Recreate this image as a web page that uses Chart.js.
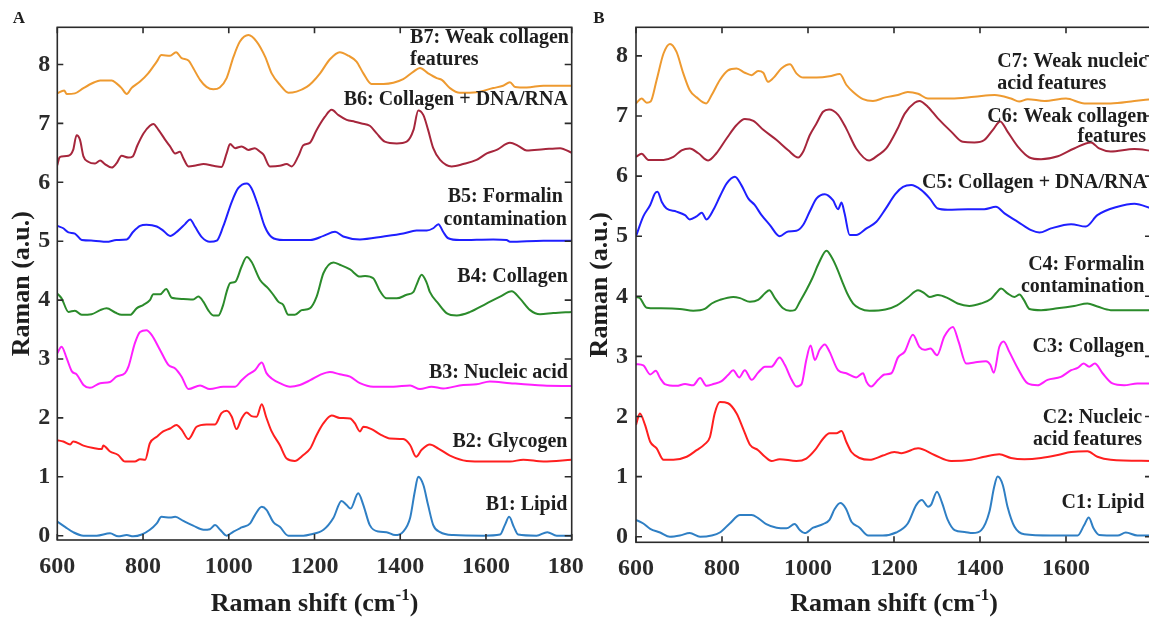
<!DOCTYPE html>
<html>
<head>
<meta charset="utf-8">
<script src="https://cdn.jsdelivr.net/npm/chart.js@4.4.1/dist/chart.umd.min.js"></script>
<style>
  html, body { margin: 0; padding: 0; background: #fff; }
  body { width: 1149px; height: 618px; position: relative; overflow: hidden; }
  .panel { position: absolute; top: 0; height: 618px; overflow: hidden; }
  #wrapA { left: 0; width: 584px; }
  #wrapB { left: 584px; width: 565px; }
  canvas { display: block; }
</style>
</head>
<body>
<div class="panel" id="wrapA"><canvas id="panelA" width="584" height="618"></canvas></div>
<div class="panel" id="wrapB"><canvas id="panelB" width="600" height="618"></canvas></div>
<script>
// Tick values shared by both panels
const shiftTicks = [600, 800, 1000, 1200, 1400, 1600, 1800];
const ramanTicks = [0, 1, 2, 3, 4, 5, 6, 7, 8];

// Panel A spectra, [Raman shift (cm-1), offset intensity (a.u.)]
const b1 = [[600,0.24],[618,0.15],[637,0.06],[661,0.00],[692,0.00],[723,0.04],[742,-0.01],[762,0.01],[777,-0.01],[797,0.02],[816,0.10],[832,0.21],[843,0.32],[863,0.31],[875,0.32],[894,0.25],[917,0.17],[941,0.10],[956,0.11],[968,0.18],[980,0.10],[995,0.00],[1011,0.07],[1030,0.14],[1050,0.21],[1061,0.35],[1077,0.49],[1088,0.44],[1104,0.23],[1119,0.15],[1139,0.00],[1174,0.00],[1190,0.02],[1221,0.10],[1244,0.30],[1263,0.59],[1275,0.52],[1284,0.46],[1302,0.72],[1314,0.52],[1329,0.18],[1349,0.07],[1368,0.06],[1388,0.01],[1407,0.07],[1423,0.30],[1434,0.75],[1442,1.00],[1454,0.86],[1465,0.52],[1477,0.18],[1493,0.06],[1524,0.01],[1594,0.00],[1633,0.02],[1644,0.18],[1654,0.32],[1665,0.15],[1675,0.02],[1718,0.00],[1743,0.06],[1765,0.00],[1800,0.00]];
const b2 = [[600,1.62],[614,1.60],[630,1.55],[637,1.60],[661,1.53],[684,1.49],[704,1.47],[707,1.53],[723,1.43],[742,1.37],[758,1.26],[781,1.26],[793,1.30],[805,1.29],[816,1.57],[832,1.68],[847,1.77],[863,1.82],[878,1.88],[890,1.80],[906,1.64],[925,1.85],[948,1.89],[968,1.89],[983,2.08],[995,2.12],[1007,2.02],[1018,1.81],[1030,1.99],[1042,2.09],[1053,2.03],[1065,2.02],[1077,2.23],[1087,2.02],[1100,1.77],[1119,1.54],[1135,1.31],[1154,1.27],[1174,1.37],[1190,1.48],[1205,1.71],[1221,1.91],[1240,2.04],[1259,2.00],[1283,1.99],[1294,1.91],[1306,1.77],[1314,1.85],[1333,1.81],[1353,1.72],[1376,1.65],[1407,1.64],[1423,1.54],[1437,1.34],[1450,1.46],[1469,1.55],[1489,1.48],[1516,1.36],[1555,1.27],[1601,1.26],[1656,1.26],[1687,1.29],[1734,1.26],[1800,1.29]];
const b3 = [[600,3.10],[610,3.21],[622,3.01],[634,2.79],[645,2.74],[661,2.56],[676,2.51],[700,2.59],[723,2.61],[738,2.70],[758,2.76],[766,2.87],[781,3.27],[793,3.46],[808,3.49],[820,3.41],[840,3.15],[859,2.90],[875,2.84],[890,2.70],[906,2.49],[933,2.55],[956,2.49],[987,2.53],[1015,2.53],[1030,2.64],[1046,2.74],[1061,2.81],[1077,2.94],[1088,2.76],[1100,2.67],[1119,2.59],[1143,2.53],[1166,2.56],[1190,2.64],[1213,2.73],[1236,2.78],[1259,2.74],[1283,2.70],[1306,2.59],[1337,2.53],[1384,2.53],[1423,2.55],[1446,2.49],[1473,2.53],[1500,2.50],[1547,2.56],[1578,2.57],[1609,2.62],[1656,2.59],[1734,2.55],[1800,2.54]];
const b4 = [[600,4.11],[610,4.03],[626,3.80],[641,3.82],[657,3.75],[680,3.76],[700,3.83],[715,3.86],[735,3.79],[750,3.75],[770,3.75],[785,3.86],[801,3.92],[816,4.00],[824,4.10],[840,4.10],[854,4.19],[867,4.04],[894,4.02],[917,4.01],[929,4.06],[941,3.97],[952,3.83],[964,3.74],[976,3.74],[987,3.92],[995,4.14],[1003,4.29],[1015,4.31],[1030,4.57],[1042,4.73],[1053,4.65],[1073,4.34],[1092,4.20],[1104,4.09],[1116,3.97],[1127,3.92],[1139,3.75],[1154,3.75],[1170,3.83],[1189,3.86],[1205,4.06],[1221,4.46],[1244,4.64],[1259,4.60],[1283,4.52],[1306,4.40],[1318,4.41],[1337,4.37],[1353,4.15],[1368,4.03],[1392,4.03],[1415,4.09],[1431,4.14],[1438,4.26],[1450,4.43],[1462,4.29],[1469,4.14],[1489,3.94],[1508,3.78],[1532,3.74],[1563,3.80],[1601,3.94],[1633,4.06],[1660,4.15],[1679,4.03],[1703,3.83],[1726,3.76],[1757,3.78],[1800,3.80]];
const b5 = [[600,5.26],[614,5.22],[626,5.15],[641,5.13],[657,5.02],[684,5.01],[715,4.99],[738,5.02],[762,5.03],[777,5.16],[793,5.26],[808,5.28],[832,5.25],[847,5.18],[863,5.09],[882,5.18],[898,5.29],[910,5.37],[921,5.25],[937,5.07],[956,4.99],[972,5.01],[987,5.25],[1007,5.67],[1022,5.90],[1042,5.98],[1053,5.90],[1069,5.59],[1084,5.25],[1100,5.07],[1127,5.02],[1158,5.02],[1190,5.02],[1221,5.09],[1248,5.16],[1267,5.08],[1306,5.03],[1361,5.08],[1407,5.13],[1438,5.18],[1462,5.18],[1477,5.22],[1489,5.29],[1500,5.16],[1512,5.05],[1539,5.02],[1617,5.03],[1648,5.02],[1656,4.99],[1734,5.01],[1800,5.01]];
const b6 = [[600,6.29],[605,6.42],[610,6.44],[626,6.45],[637,6.55],[645,6.80],[653,6.72],[661,6.44],[672,6.35],[688,6.32],[700,6.37],[711,6.31],[727,6.25],[738,6.32],[750,6.45],[766,6.42],[776,6.44],[787,6.63],[801,6.83],[816,6.96],[824,6.99],[836,6.89],[851,6.73],[863,6.61],[875,6.49],[886,6.52],[894,6.41],[906,6.27],[925,6.29],[941,6.31],[964,6.28],[983,6.26],[995,6.49],[1003,6.65],[1015,6.58],[1030,6.61],[1046,6.55],[1061,6.58],[1073,6.52],[1081,6.47],[1096,6.27],[1119,6.28],[1135,6.31],[1147,6.27],[1162,6.44],[1174,6.63],[1189,6.67],[1205,6.89],[1224,7.11],[1240,7.23],[1256,7.14],[1275,7.06],[1294,7.03],[1310,7.00],[1329,6.96],[1345,6.83],[1364,6.69],[1392,6.66],[1415,6.69],[1431,6.89],[1442,7.22],[1454,7.14],[1465,6.89],[1477,6.58],[1493,6.38],[1520,6.27],[1547,6.31],[1578,6.38],[1602,6.49],[1625,6.55],[1656,6.67],[1675,6.62],[1695,6.54],[1734,6.56],[1773,6.58],[1800,6.50]];
const b7 = [[600,7.51],[616,7.56],[622,7.50],[641,7.51],[661,7.60],[684,7.69],[700,7.73],[727,7.73],[738,7.68],[750,7.60],[762,7.50],[773,7.60],[793,7.71],[812,7.85],[832,8.05],[843,8.16],[863,8.15],[877,8.21],[890,8.11],[906,8.07],[917,7.94],[933,7.74],[948,7.62],[964,7.58],[979,7.61],[995,7.77],[1011,8.13],[1026,8.39],[1046,8.50],[1065,8.39],[1085,8.13],[1100,7.85],[1120,7.65],[1139,7.52],[1158,7.54],[1182,7.62],[1195,7.70],[1213,7.85],[1236,8.09],[1259,8.21],[1279,8.15],[1298,8.05],[1314,7.85],[1333,7.67],[1361,7.67],[1384,7.69],[1407,7.75],[1431,7.88],[1446,7.94],[1465,7.85],[1485,7.77],[1497,7.74],[1516,7.60],[1539,7.52],[1578,7.53],[1617,7.60],[1640,7.64],[1656,7.70],[1668,7.62],[1695,7.61],[1734,7.64],[1800,7.64]];

// Panel B spectra
const c1 = [[600,0.28],[617,0.22],[633,0.13],[656,0.07],[679,0.00],[702,0.02],[725,0.06],[749,0.00],[776,0.02],[795,0.07],[818,0.22],[842,0.36],[869,0.36],[884,0.31],[903,0.21],[927,0.15],[950,0.14],[969,0.21],[981,0.11],[992,0.06],[1012,0.15],[1035,0.21],[1050,0.28],[1062,0.46],[1075,0.56],[1088,0.47],[1101,0.25],[1120,0.15],[1140,0.02],[1174,0.02],[1205,0.07],[1232,0.22],[1252,0.53],[1265,0.61],[1279,0.50],[1286,0.53],[1300,0.75],[1311,0.58],[1325,0.28],[1341,0.11],[1364,0.08],[1383,0.06],[1403,0.11],[1422,0.42],[1433,0.83],[1441,1.00],[1453,0.86],[1464,0.50],[1480,0.17],[1503,0.04],[1565,0.02],[1627,0.02],[1642,0.19],[1653,0.32],[1664,0.14],[1677,0.03],[1720,0.02],[1739,0.07],[1766,0.02],[1800,0.02]];
const c2 = [[600,1.86],[609,2.05],[621,1.86],[633,1.58],[648,1.47],[664,1.28],[687,1.28],[718,1.33],[741,1.44],[760,1.54],[772,1.66],[783,2.05],[795,2.24],[814,2.22],[834,2.05],[849,1.80],[865,1.53],[884,1.44],[900,1.33],[915,1.26],[934,1.29],[973,1.26],[996,1.30],[1016,1.44],[1035,1.63],[1050,1.72],[1066,1.72],[1078,1.76],[1089,1.58],[1101,1.41],[1120,1.31],[1143,1.28],[1174,1.35],[1201,1.41],[1217,1.39],[1256,1.47],[1294,1.36],[1333,1.26],[1379,1.28],[1410,1.33],[1445,1.37],[1472,1.31],[1503,1.29],[1542,1.31],[1581,1.36],[1612,1.41],[1650,1.42],[1673,1.33],[1704,1.28],[1800,1.26]];
const c3 = [[600,2.87],[617,2.85],[633,2.70],[646,2.76],[656,2.64],[667,2.54],[694,2.51],[714,2.54],[733,2.52],[749,2.64],[764,2.51],[780,2.54],[799,2.59],[814,2.69],[826,2.77],[840,2.65],[853,2.77],[869,2.61],[884,2.73],[900,2.83],[915,2.83],[934,2.98],[946,2.86],[962,2.61],[973,2.50],[985,2.54],[996,2.94],[1006,3.18],[1016,2.94],[1027,3.11],[1039,3.20],[1050,3.08],[1070,2.77],[1089,2.72],[1112,2.65],[1128,2.72],[1136,2.58],[1147,2.50],[1163,2.61],[1178,2.70],[1194,2.72],[1209,2.98],[1225,3.08],[1244,3.36],[1259,3.16],[1271,3.11],[1285,3.13],[1300,3.02],[1317,3.33],[1337,3.49],[1350,3.25],[1368,2.88],[1387,2.90],[1414,2.92],[1424,2.86],[1432,2.73],[1445,3.16],[1455,3.25],[1468,3.08],[1488,2.80],[1511,2.55],[1534,2.52],[1557,2.61],[1588,2.66],[1612,2.77],[1627,2.81],[1641,2.88],[1654,2.83],[1667,2.88],[1685,2.72],[1708,2.55],[1735,2.52],[1766,2.55],[1800,2.55]];
const c4 = [[600,3.99],[609,3.97],[625,3.81],[648,3.80],[702,3.79],[733,3.76],[760,3.79],[776,3.88],[795,3.94],[826,3.99],[842,3.97],[865,3.91],[884,3.94],[900,4.05],[910,4.10],[923,3.97],[942,3.80],[958,3.76],[969,3.77],[981,3.91],[996,4.10],[1010,4.30],[1025,4.55],[1043,4.76],[1055,4.65],[1066,4.49],[1081,4.22],[1091,4.05],[1105,3.88],[1120,3.80],[1143,3.76],[1180,3.78],[1207,3.85],[1232,3.98],[1256,4.10],[1271,4.05],[1283,3.99],[1302,4.02],[1325,3.97],[1348,3.88],[1375,3.84],[1402,3.88],[1426,3.96],[1437,4.05],[1449,4.13],[1464,4.05],[1480,3.99],[1492,4.03],[1502,3.94],[1515,3.79],[1542,3.77],[1580,3.80],[1619,3.84],[1650,3.88],[1673,3.83],[1704,3.77],[1800,3.77]];
const c5 = [[600,5.00],[617,5.33],[633,5.52],[644,5.71],[650,5.74],[660,5.57],[671,5.46],[694,5.41],[714,5.35],[725,5.28],[741,5.33],[753,5.39],[764,5.28],[780,5.44],[795,5.66],[811,5.88],[830,5.99],[845,5.85],[861,5.63],[876,5.52],[892,5.35],[911,5.19],[934,5.00],[954,5.08],[973,5.09],[989,5.19],[1004,5.41],[1020,5.63],[1039,5.70],[1058,5.60],[1070,5.45],[1078,5.56],[1085,5.38],[1097,5.02],[1112,5.02],[1136,5.13],[1159,5.24],[1180,5.45],[1203,5.70],[1221,5.82],[1240,5.85],[1263,5.77],[1283,5.63],[1302,5.46],[1325,5.44],[1372,5.45],[1410,5.45],[1437,5.49],[1457,5.38],[1488,5.24],[1519,5.10],[1538,5.06],[1565,5.13],[1612,5.20],[1646,5.16],[1673,5.35],[1720,5.49],[1759,5.54],[1800,5.46]];
const c6 = [[600,6.32],[613,6.37],[629,6.27],[664,6.27],[687,6.32],[706,6.43],[725,6.46],[745,6.38],[768,6.26],[787,6.38],[811,6.63],[834,6.85],[853,6.95],[873,6.92],[896,6.77],[927,6.60],[954,6.43],[977,6.31],[989,6.41],[1004,6.68],[1020,6.88],[1035,7.07],[1049,7.11],[1070,7.02],[1089,6.79],[1112,6.46],[1142,6.26],[1163,6.35],[1182,6.46],[1207,6.77],[1225,7.04],[1248,7.22],[1259,7.25],[1279,7.15],[1302,6.96],[1333,6.74],[1360,6.57],[1387,6.56],[1410,6.60],[1430,6.77],[1447,6.91],[1464,6.74],[1488,6.49],[1515,6.31],[1542,6.28],[1581,6.33],[1619,6.46],[1658,6.56],[1677,6.46],[1704,6.41],[1759,6.45],[1800,6.42]];
const c7 = [[600,7.21],[613,7.29],[625,7.22],[634,7.24],[648,7.60],[664,8.04],[679,8.20],[694,8.07],[710,7.71],[725,7.43],[741,7.31],[763,7.21],[776,7.35],[795,7.60],[814,7.76],[834,7.79],[853,7.72],[869,7.68],[884,7.75],[896,7.72],[907,7.57],[919,7.63],[938,7.79],[958,7.86],[973,7.71],[989,7.64],[1020,7.64],[1050,7.66],[1074,7.70],[1089,7.52],[1105,7.40],[1128,7.28],[1151,7.25],[1180,7.31],[1209,7.35],[1232,7.40],[1256,7.37],[1279,7.29],[1333,7.29],[1387,7.32],[1434,7.35],[1472,7.29],[1491,7.24],[1511,7.28],[1550,7.25],[1600,7.29],[1643,7.21],[1704,7.21],[1759,7.25],[1800,7.28]];

// Annotation text: [text, shift, intensity, alignment]
const notesA = [
  ['B7: Weak collagen', 1423, 8.45, 'left'],
  ['features', 1423, 8.08, 'left'],
  ['B6: Collagen + DNA/RNA', 1791, 7.40, 'right'],
  ['B5: Formalin', 1645, 5.76, 'center'],
  ['contamination', 1645, 5.36, 'center'],
  ['B4: Collagen', 1791, 4.40, 'right'],
  ['B3: Nucleic acid', 1791, 2.77, 'right'],
  ['B2: Glycogen', 1790, 1.60, 'right'],
  ['B1: Lipid', 1790, 0.53, 'right']
];
const notesB = [
  ['C7: Weak nucleic', 1440, 7.90, 'left'],
  ['acid features', 1440, 7.54, 'left'],
  ['C6: Weak collagen', 1789, 6.99, 'right'],
  ['features', 1786, 6.65, 'right'],
  ['C5: Collagen + DNA/RNA', 1789, 5.88, 'right'],
  ['C4: Formalin', 1782, 4.52, 'right'],
  ['contamination', 1782, 4.15, 'right'],
  ['C3: Collagen', 1782, 3.16, 'right'],
  ['C2: Nucleic', 1777, 1.97, 'right'],
  ['acid features', 1777, 1.61, 'right'],
  ['C1: Lipid', 1782, 0.56, 'right']
];

const colors = {
  lipid: '#2f7fc4',
  red: '#ff1f1f',
  magenta: '#ff1fff',
  green: '#2b8b2b',
  blue: '#1f1fff',
  wine: '#a6263c',
  orange: '#ee9a30'
};
const INK = '#1e1e1e';
const AXIS = '#2b2b2b';
const SERIF = '"Liberation Serif", "Times New Roman", serif';

const decor = {
  id: 'decor',
  afterDraw(chart, args, o) {
    const { ctx, chartArea: a, scales: { x, y } } = chart;
    ctx.save();
    // frame with inward ticks on all four sides
    ctx.strokeStyle = AXIS;
    ctx.lineWidth = 1.6;
    ctx.strokeRect(a.left, a.top, a.right - a.left, a.bottom - a.top);
    ctx.beginPath();
    for (const t of shiftTicks) {
      const px = x.getPixelForValue(t);
      ctx.moveTo(px, a.bottom); ctx.lineTo(px, a.bottom - 6);
      ctx.moveTo(px, a.top); ctx.lineTo(px, a.top + 6);
    }
    for (const t of ramanTicks) {
      const py = y.getPixelForValue(t);
      ctx.moveTo(a.left, py); ctx.lineTo(a.left + 6, py);
      ctx.moveTo(a.right, py); ctx.lineTo(a.right - 7, py);
    }
    ctx.stroke();

    // curve annotations
    ctx.fillStyle = INK;
    ctx.font = 'bold 20px ' + SERIF;
    ctx.textBaseline = 'middle';
    for (const [text, sx, sy, align] of o.notes) {
      ctx.textAlign = align;
      ctx.fillText(text, x.getPixelForValue(sx), y.getPixelForValue(sy));
    }

    // x-axis title with superscript exponent
    const main = 'bold 26px ' + SERIF, sup = 'bold 17px ' + SERIF;
    const parts = [['Raman shift (cm', main, 0], ['-1', sup, -11], [')', main, 0]];
    let total = 0;
    for (const p of parts) { ctx.font = p[1]; total += ctx.measureText(p[0]).width; }
    let cx = (a.left + a.right) / 2 - total / 2;
    ctx.textAlign = 'left';
    ctx.textBaseline = 'alphabetic';
    for (const [t, f, dy] of parts) {
      ctx.font = f;
      ctx.fillText(t, cx, o.titleBaseline + dy);
      cx += ctx.measureText(t).width;
    }

    // y-axis title
    ctx.save();
    ctx.translate(o.yTitleX, (a.top + a.bottom) / 2);
    ctx.rotate(-Math.PI / 2);
    ctx.font = main;
    ctx.textAlign = 'center';
    ctx.textBaseline = 'middle';
    ctx.fillText('Raman (a.u.)', 0, 0);
    ctx.restore();

    // panel letter
    ctx.font = 'bold 17px ' + SERIF;
    ctx.textAlign = 'center';
    ctx.textBaseline = 'middle';
    ctx.fillText(o.letter, o.letterX, o.letterY);
    ctx.restore();
  }
};

function series(points, color) {
  return {
    data: points.map(([sx, v]) => ({ x: sx, y: v })),
    borderColor: color,
    borderWidth: 2,
    pointRadius: 0,
    fill: false,
    cubicInterpolationMode: 'monotone'
  };
}

function zeroPad(s) { s.paddingLeft = 0; s.paddingRight = 0; s.paddingTop = 0; s.paddingBottom = 0; }

function makePanel(id, sets, p) {
  const tickFont = { family: SERIF, weight: 'bold', size: 24 };
  return new Chart(document.getElementById(id), {
    type: 'line',
    data: { datasets: sets },
    options: {
      responsive: false,
      animation: false,
      devicePixelRatio: 1,
      layout: { padding: { left: 0, top: 27.3, right: p.padRight, bottom: 0 } },
      plugins: {
        legend: { display: false },
        tooltip: { enabled: false },
        decor: p.decor
      },
      scales: {
        x: {
          type: 'linear', min: 600, max: 1800,
          grid: { display: false, drawTicks: false },
          border: { display: false },
          afterBuildTicks: s => { s.ticks = shiftTicks.map(v => ({ value: v })); },
          afterFit: s => { s.height = p.xHeight; zeroPad(s); },
          ticks: {
            font: tickFont, color: AXIS, padding: 12, autoSkip: false, maxRotation: 0,
            callback: v => (v > p.lastShiftLabel ? '' : String(v))
          }
        },
        y: {
          type: 'linear', min: p.yMin, max: p.yMax,
          grid: { display: false, drawTicks: false },
          border: { display: false },
          afterBuildTicks: s => { s.ticks = ramanTicks.map(v => ({ value: v })); },
          afterFit: s => { s.width = p.yWidth; zeroPad(s); },
          ticks: { font: tickFont, color: AXIS, padding: p.yPad, callback: v => String(v) }
        }
      }
    },
    plugins: [decor]
  });
}

makePanel('panelA', [
  series(b1, colors.lipid), series(b2, colors.red), series(b3, colors.magenta),
  series(b4, colors.green), series(b5, colors.blue), series(b6, colors.wine), series(b7, colors.orange)
], {
  padRight: 12.3, xHeight: 78, yWidth: 57.3, yMin: -0.073, yMax: 8.632, yPad: 7, lastShiftLabel: 1800,
  decor: { notes: notesA, titleBaseline: 611, yTitleX: 22, letter: 'A', letterX: 19, letterY: 19 }
});

makePanel('panelB', [
  series(c1, colors.lipid), series(c2, colors.red), series(c3, colors.magenta),
  series(c4, colors.green), series(c5, colors.blue), series(c6, colors.wine), series(c7, colors.orange)
], {
  padRight: 32, xHeight: 75.7, yWidth: 52, yMin: -0.093, yMax: 8.476, yPad: 8, lastShiftLabel: 1600,
  decor: { notes: notesB, titleBaseline: 611, yTitleX: 16, letter: 'B', letterX: 15, letterY: 19 }
});
</script>
</body>
</html>
